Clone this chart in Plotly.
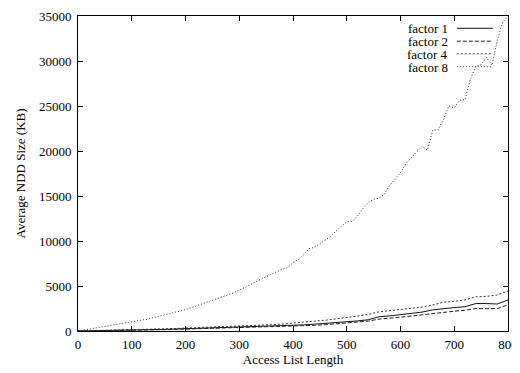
import plotly.graph_objects as go

# ---- data ----
x8 = list(range(0, 801, 10))
factor8 = [0, 100, 200, 320, 420, 500, 600, 680, 780, 860,
           950, 1080, 1200, 1330, 1480, 1620, 1750, 1900, 2050, 2220,
           2380, 2570, 2780, 3000, 3200, 3350, 3550, 3800, 4000, 4250,
           4550, 4800, 5100, 5450, 5750, 6050, 6350, 6600, 6850, 7050,
           7600, 7950, 8500, 9150, 9300, 9700, 10000, 10500, 11100, 11600,
           12150, 12150, 12800, 13600, 14300, 14650, 14750, 15200, 16200, 16900,
           17600, 18600, 19300, 19900, 20500, 20100, 22300, 22350, 23500, 25000,
           24800, 25650, 25700, 28000, 29400, 29600, 30400, 29500, 32300, 34300,
           35000]

x_low = list(range(0, 801, 20))
factor1 = [0, 15, 35, 55, 75, 100, 125, 150, 180, 215,
           250, 280, 310, 340, 370, 410, 450, 490, 530, 570,
           620, 680, 760, 830, 910, 1000, 1120, 1250, 1580, 1680,
           1800, 1950, 2100, 2350, 2500, 2600, 2700, 3050, 3050, 3000,
           3450]
factor2 = [0, 10, 25, 40, 60, 80, 100, 125, 150, 180,
           210, 240, 265, 290, 320, 350, 380, 400, 430, 460,
           500, 560, 630, 700, 780, 870, 980, 1100, 1320, 1410,
           1520, 1650, 1800, 1950, 2120, 2200, 2300, 2500, 2480, 2500,
           2900]
factor4 = [0, 20, 45, 70, 100, 130, 165, 200, 240, 280,
           320, 360, 400, 440, 480, 530, 580, 640, 700, 780,
           870, 960, 1080, 1200, 1340, 1480, 1650, 1850, 2130, 2260,
           2380, 2500, 2650, 2900, 3200, 3300, 3450, 3800, 3850, 4000,
           4450]

series = [
    ("factor 1", x_low, factor1, "solid", "#111111"),
    ("factor 2", x_low, factor2, "4px,2px", "#222222"),
    ("factor 4", x_low, factor4, "2px,2px", "#333333"),
    ("factor 8", x8, factor8, "1px,2px", "#333333"),
]

x_ticks = [0, 100, 200, 300, 400, 500, 600, 700, 800]
y_ticks = [0, 5000, 10000, 15000, 20000, 25000, 30000, 35000]

FONT = "Liberation Serif, Times New Roman, serif"

fig = go.Figure()
for name, xs, ys, dash, col in series:
    fig.add_trace(go.Scatter(x=xs, y=ys, mode="lines", name=name,
                             line=dict(color=col, width=1, dash=dash),
                             showlegend=False))

# gnuplot-style legend: right-aligned text followed by line sample
row_y = [0.961, 0.920, 0.880, 0.839]
for (name, xs, ys, dash, col), ry in zip(series, row_y):
    fig.add_annotation(xref="paper", yref="paper", x=0.862, y=ry,
                       text=name, showarrow=False, xanchor="right",
                       yanchor="middle", borderpad=0, height=12, valign="middle",
                       font=dict(family=FONT, size=13, color="#000"))
    fig.add_shape(type="line", xref="paper", yref="paper",
                  x0=0.881, x1=0.965, y0=ry, y1=ry,
                  line=dict(color=col, width=1, dash=dash))

axis_common = dict(showline=True, linecolor="black", linewidth=1, mirror="ticks",
                   ticks="inside", ticklen=5, tickcolor="black", tickwidth=1,
                   showgrid=False, zeroline=False, automargin=False,
                   tickfont=dict(family=FONT, size=13, color="#000"))

fig.update_xaxes(range=[0, 800], tickvals=x_ticks,
                 ticktext=[str(v) for v in x_ticks], ticklabelstandoff=1,
                 title=dict(text="Access List Length", standoff=4,
                            font=dict(family=FONT, size=13, color="#000")),
                 **axis_common)
fig.update_yaxes(range=[0, 35000], tickvals=y_ticks,
                 ticktext=[str(v) for v in y_ticks], ticklabelstandoff=3,
                 title=dict(text="Average NDD Size (KB)", standoff=10,
                            font=dict(family=FONT, size=13, color="#000")),
                 **axis_common)

# the page body adds an 8px margin, so the figure is sized to compensate
fig.update_layout(width=512, height=365,
                  margin=dict(l=70, r=12, t=8, b=42),
                  paper_bgcolor="white", plot_bgcolor="white",
                  font=dict(family=FONT, size=13, color="#000"))

fig.write_html("out.html")
